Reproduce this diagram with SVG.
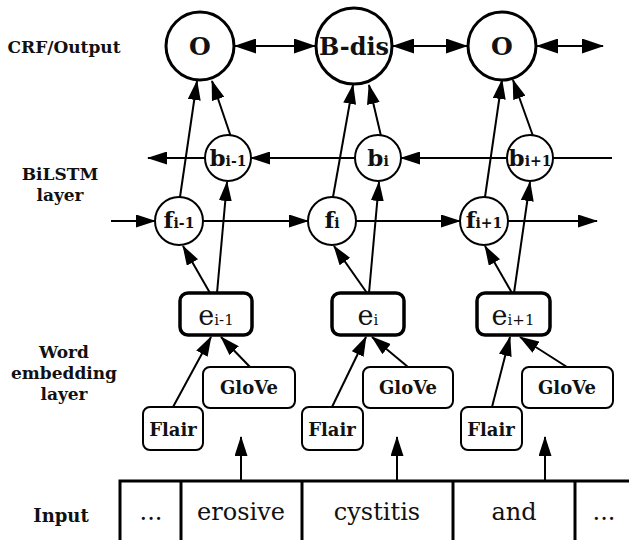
<svg xmlns="http://www.w3.org/2000/svg" width="629" height="540" viewBox="0 0 629 540">
<defs>
<marker id="ah" markerUnits="userSpaceOnUse" markerWidth="20" markerHeight="13" refX="19" refY="6.5" orient="auto-start-reverse">
<path d="M0,0 L20,6.5 L0,13 z" fill="#000"/>
</marker>
<marker id="ahb" markerUnits="userSpaceOnUse" markerWidth="22" markerHeight="15" refX="21" refY="7.5" orient="auto-start-reverse">
<path d="M0,0 L22,7.5 L0,15 z" fill="#000"/>
</marker>
</defs>
<style>
.lbl{font-family:"DejaVu Serif","Liberation Serif",serif;font-weight:bold;font-size:17px;fill:#111;text-anchor:middle}
.out{fill:#fff;stroke:#000;stroke-width:3}
.cell{fill:#fff;stroke:#000;stroke-width:2}
.nt{font-family:"DejaVu Serif","Liberation Serif",serif;font-weight:bold;text-anchor:middle;fill:#111}
.ebox{fill:#fff;stroke:#000;stroke-width:3.5}
.sbox{fill:#fff;stroke:#000;stroke-width:2}
.et{font-family:"DejaVu Serif","Liberation Serif",serif;text-anchor:middle;fill:#111}
.bt{font-family:"DejaVu Serif","Liberation Serif",serif;font-weight:bold;font-size:18px;text-anchor:middle;fill:#111}
.it{font-family:"DejaVu Serif","Liberation Serif",serif;font-size:24px;text-anchor:middle;fill:#111}
.c{stroke:#000;stroke-width:2;fill:none;marker-end:url(#ah)}
.cd{stroke:#000;stroke-width:2;fill:none;marker-end:url(#ahb);marker-start:url(#ahb)}
</style>
<rect width="629" height="540" fill="#fff"/>

<g id="labels">
<text class="lbl" x="64" y="53">CRF/Output</text>
<text class="lbl" x="60" y="180">BiLSTM</text>
<text class="lbl" x="60" y="201">layer</text>
<text class="lbl" x="64" y="358">Word</text>
<text class="lbl" x="64" y="379">embedding</text>
<text class="lbl" x="64" y="400">layer</text>
<text class="lbl" x="61" y="522" style="font-size:18px">Input</text>
</g>

<g id="connectors">
<line class="cd" x1="235" y1="46" x2="315" y2="46"/>
<line class="cd" x1="393" y1="46" x2="467" y2="46"/>
<line class="cd" x1="537" y1="46" x2="603" y2="46"/>
<line class="c" x1="612" y1="158" x2="507" y2="158"/>
<line class="c" x1="507" y1="158" x2="401" y2="158"/>
<line class="c" x1="355" y1="158" x2="251" y2="158"/>
<line class="c" x1="205" y1="158" x2="148" y2="158"/>
<line class="c" x1="111" y1="221" x2="155" y2="221"/>
<line class="c" x1="203" y1="221" x2="308" y2="221"/>
<line class="c" x1="356" y1="221" x2="460" y2="221"/>
<line class="c" x1="508" y1="221" x2="597" y2="221"/>
<line class="c" x1="180" y1="197" x2="197" y2="81"/>
<line class="c" x1="231" y1="137" x2="212" y2="81"/>
<line class="c" x1="333" y1="197" x2="353" y2="85"/>
<line class="c" x1="381" y1="136" x2="369" y2="85"/>
<line class="c" x1="485" y1="197" x2="502" y2="80"/>
<line class="c" x1="533" y1="136" x2="513" y2="80"/>
<line class="c" x1="210" y1="293" x2="183" y2="246"/>
<line class="c" x1="217" y1="293" x2="227" y2="182"/>
<line class="c" x1="367" y1="293" x2="334" y2="246"/>
<line class="c" x1="369" y1="293" x2="379" y2="182"/>
<line class="c" x1="512" y1="293" x2="485" y2="246"/>
<line class="c" x1="514" y1="293" x2="530" y2="182"/>
<line class="c" x1="173" y1="407" x2="211" y2="337"/>
<line class="c" x1="250" y1="367" x2="221" y2="337"/>
<line class="c" x1="332" y1="407" x2="366" y2="337"/>
<line class="c" x1="408" y1="367" x2="372" y2="337"/>
<line class="c" x1="492" y1="407" x2="510" y2="337"/>
<line class="c" x1="567" y1="367" x2="520" y2="337"/>
<line class="c" x1="241" y1="481" x2="241" y2="437"/>
<line class="c" x1="397" y1="481" x2="397" y2="437"/>
<line class="c" x1="545" y1="481" x2="545" y2="437"/>
</g>

<g id="out1"><circle class="out" cx="200" cy="46" r="34"/><text class="nt" x="200" y="55" font-size="25">O</text></g>
<g id="out2"><circle class="out" cx="354" cy="46" r="38"/><text class="nt" x="354" y="55" font-size="24">B-dis</text></g>
<g id="out3"><circle class="out" cx="502" cy="46" r="34"/><text class="nt" x="502" y="55" font-size="25">O</text></g>

<g id="b1"><circle class="cell" cx="228" cy="158" r="23"/><text class="nt" x="228" y="166"><tspan font-size="23">b</tspan><tspan font-size="14">i-1</tspan></text></g>
<g id="b2"><circle class="cell" cx="378" cy="158" r="23"/><text class="nt" x="378" y="166"><tspan font-size="23">b</tspan><tspan font-size="14">i</tspan></text></g>
<g id="b3"><circle class="cell" cx="530" cy="158" r="23"/><text class="nt" x="530" y="166"><tspan font-size="23">b</tspan><tspan font-size="14">i+1</tspan></text></g>

<g id="f1"><circle class="cell" cx="179" cy="221" r="24"/><text class="nt" x="179" y="228"><tspan font-size="23">f</tspan><tspan font-size="14">i-1</tspan></text></g>
<g id="f2"><circle class="cell" cx="332" cy="221" r="24"/><text class="nt" x="332" y="228"><tspan font-size="23">f</tspan><tspan font-size="14">i</tspan></text></g>
<g id="f3"><circle class="cell" cx="484" cy="221" r="24"/><text class="nt" x="484" y="228"><tspan font-size="23">f</tspan><tspan font-size="14">i+1</tspan></text></g>

<g id="e1"><rect class="ebox" x="180" y="293" width="72" height="42" rx="8"/><text class="et" x="216" y="325"><tspan font-size="27">e</tspan><tspan font-size="15">i-1</tspan></text></g>
<g id="e2"><rect class="ebox" x="332" y="293" width="72" height="42" rx="8"/><text class="et" x="368" y="325"><tspan font-size="27">e</tspan><tspan font-size="15">i</tspan></text></g>
<g id="e3"><rect class="ebox" x="477" y="293" width="73" height="42" rx="8"/><text class="et" x="513" y="325"><tspan font-size="27">e</tspan><tspan font-size="15">i+1</tspan></text></g>

<g id="glove1"><rect class="sbox" x="203" y="367" width="92" height="41" rx="7"/><text class="bt" x="249" y="394">GloVe</text></g>
<g id="glove2"><rect class="sbox" x="363" y="367" width="90" height="41" rx="7"/><text class="bt" x="408" y="394">GloVe</text></g>
<g id="glove3"><rect class="sbox" x="522" y="367" width="91" height="41" rx="7"/><text class="bt" x="567" y="394">GloVe</text></g>

<g id="flair1"><rect class="sbox" x="143" y="407" width="60" height="43" rx="7"/><text class="bt" x="173" y="436">Flair</text></g>
<g id="flair2"><rect class="sbox" x="302" y="407" width="61" height="43" rx="7"/><text class="bt" x="332" y="436">Flair</text></g>
<g id="flair3"><rect class="sbox" x="461" y="407" width="61" height="43" rx="7"/><text class="bt" x="491" y="436">Flair</text></g>

<g id="input">
<rect x="120" y="481" width="520" height="70" fill="#fff" stroke="#000" stroke-width="3"/>
<line x1="181" y1="481" x2="181" y2="540" stroke="#000" stroke-width="3"/>
<line x1="302" y1="481" x2="302" y2="540" stroke="#000" stroke-width="3"/>
<line x1="453" y1="481" x2="453" y2="540" stroke="#000" stroke-width="3"/>
<line x1="575" y1="481" x2="575" y2="540" stroke="#000" stroke-width="3"/>
<text class="it" x="151" y="520">...</text>
<text class="it" x="241" y="520">erosive</text>
<text class="it" x="377" y="520">cystitis</text>
<text class="it" x="514" y="520">and</text>
<text class="it" x="604" y="520">...</text>
</g>
</svg>
